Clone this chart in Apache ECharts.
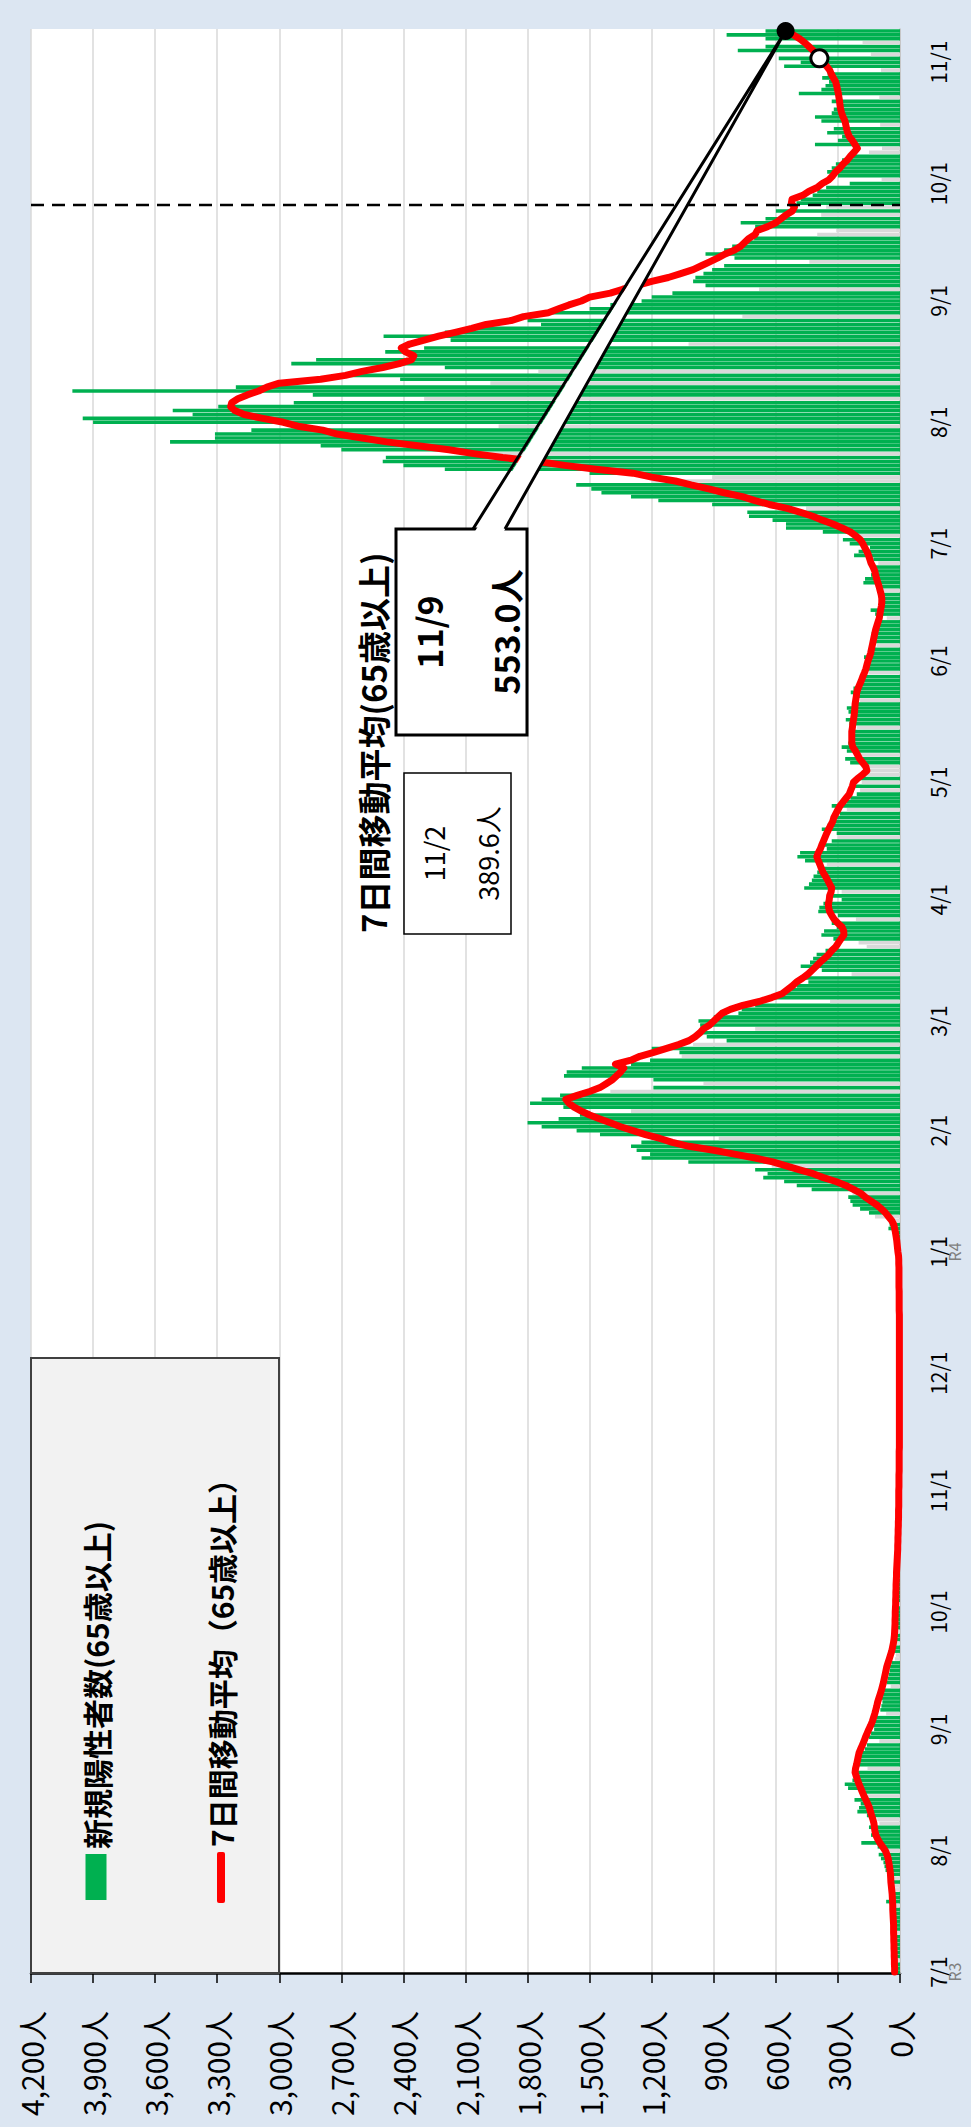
<!DOCTYPE html>
<html lang="ja">
<head>
<meta charset="utf-8">
<title>新規陽性者数(65歳以上)と7日間移動平均</title>
<script src="https://cdn.jsdelivr.net/npm/echarts@6/dist/echarts.min.js"></script>
<style>
  html, body { margin: 0; padding: 0; width: 971px; height: 2127px; overflow: hidden; background: #dce6f2; }
  /* the chart is laid out landscape and turned a quarter turn counter-clockwise */
  #chart { position: absolute; left: 0; top: 0; width: 2127px; height: 971px;
           transform-origin: 0 0; transform: translate(0px, 2127px) rotate(-90deg); }
</style>
</head>
<body>
<div id="chart"></div>
<script>
// ---- data: one value per day from 2021-07-01 to 2022-11-09 (rows of 7 days) ----
const startDate = '2021-07-01';

const newCases = [
  25,30,28,20,22,30,28,
  32,30,35,22,26,35,33,
  38,40,42,30,67,45,48,
  40,38,50,45,60,70,75,
  80,92,103,70,108,187,120,
  140,130,150,100,110,160,206,
  198,190,220,182,190,251,267,
  230,220,225,157,210,200,190,
  185,170,160,100,150,140,125,
  130,125,118,67,95,90,85,
  88,82,78,45,65,60,55,
  50,48,42,25,20,35,30,
  22,28,25,18,26,24,22,
  22,20,20,15,20,19,18,
  17,17,16,12,15,14,13,
  12,11,10,8,10,9,8,
  8,7,7,5,6,6,6,
  5,5,5,4,4,5,2,
  4,5,4,2,4,3,4,
  5,3,4,2,3,4,3,
  4,3,3,2,3,1,3,
  4,3,3,2,3,4,3,
  3,4,3,2,3,4,3,
  4,3,4,2,4,3,4,
  5,4,5,3,5,6,5,
  6,7,6,4,6,7,8,
  7,8,8,10,12,15,20,
  28,56,50,45,121,150,193,
  229,240,250,230,427,499,560,
  661,640,700,620,1023,1249,1208,
  1273,1300,1250,876,1450,1563,1732,
  1800,1650,1547,1300,1627,1788,1732,
  1643,1400,1192,950,1192,1624,1611,
  1538,1300,1208,1055,1066,1200,1000,
  838,934,982,700,966,974,900,
  781,765,700,338,628,580,560,
  499,443,460,234,378,480,435,
  420,403,360,161,200,322,380,
  367,306,330,213,300,395,390,
  370,282,340,282,463,440,426,
  418,400,390,354,459,496,483,
  354,380,330,300,306,378,350,
  322,310,290,257,330,260,240,
  209,193,217,185,200,161,153,
  185,241,265,210,257,282,250,
  225,240,230,209,245,262,235,
  249,257,220,193,215,238,225,
  200,190,175,153,177,170,165,
  174,150,140,113,130,129,137,
  125,113,105,64,120,142,100,
  95,88,105,90,113,177,169,
  140,130,125,105,129,222,200,
  145,243,276,227,373,551,551,
  616,730,738,454,908,1168,1300,
  1443,1492,1565,1200,908,1500,2200,
  2400,2500,2485,2100,2700,2800,3528,
  3311,3311,3135,1940,3900,3950,3419,
  3515,3295,2930,2300,2838,4000,3210,
  1980,2416,2700,1748,2200,2942,2822,
  2349,2488,2300,1022,2172,2496,2200,
  2044,1735,1800,762,1700,1500,1400,
  1249,1200,1100,681,940,1000,989,
  950,908,850,438,800,940,850,
  811,750,705,400,308,700,770,
  650,381,600,357,500,480,422,
  400,357,243,89,300,352,330,
  310,280,250,150,87,411,300,
  280,352,320,96,380,411,330,
  320,300,330,100,489,380,360,
  343,376,350,92,560,480,586,
  141,784,650,181,650,838,650
];

const movingAvg = [
  26,26,27,27,28,28,29,
  29,30,30,31,31,31,32,
  33,34,35,35,36,37,38,
  40,42,44,45,46,48,51,
  54,57,63,71,84,97,108,
  117,121,124,126,131,137,143,
  148,156,165,174,182,190,198,
  205,211,217,215,210,206,202,
  198,190,182,174,167,159,151,
  142,134,128,122,117,112,108,
  102,96,90,85,80,76,72,
  68,64,58,52,46,40,36,
  32,29,27,26,25,24,24,
  23,23,22,21,21,20,20,
  19,19,18,17,17,16,15,
  14,13,12,11,11,10,10,
  9,9,8,8,7,7,7,
  6,6,6,6,6,5,5,
  5,5,4,4,4,4,4,
  4,3,3,3,3,3,3,
  3,3,3,3,3,3,3,
  3,3,3,3,3,3,3,
  3,3,3,3,3,3,3,
  3,3,3,3,3,3,3,
  3,4,4,4,4,4,4,
  5,5,5,5,5,5,6,
  6,7,10,12,14,16,19,
  22,26,30,40,55,70,90,
  112,140,168,190,225,262,310,
  370,420,485,550,615,700,800,
  900,1020,1100,1160,1230,1290,1350,
  1400,1450,1500,1540,1575,1600,1615,
  1560,1500,1450,1420,1390,1370,1350,
  1335,1375,1300,1257,1190,1128,1070,
  1020,990,967,950,920,900,880,
  860,820,760,680,620,570,545,
  520,500,470,445,425,405,387,
  365,345,330,310,298,285,271,
  272,280,300,318,330,340,345,
  346,342,340,333,330,340,350,
  360,372,380,387,395,402,395,
  385,378,370,362,354,345,335,
  325,320,310,300,290,275,260,
  245,238,230,225,205,180,160,
  165,180,195,205,215,228,233,
  233,233,233,230,228,225,222,
  220,218,217,214,211,209,203,
  195,187,180,172,165,160,155,
  148,142,138,134,130,126,122,
  118,112,106,100,97,94,90,
  88,88,91,96,101,107,113,
  118,122,130,140,146,152,160,
  170,180,192,215,240,280,324,
  375,422,480,545,632,700,762,
  850,924,1010,1086,1200,1290,1470,
  1620,1750,1920,2060,2180,2330,2480,
  2600,2720,2790,2910,2980,3080,3170,
  3215,3235,3230,3200,3155,3100,3060,
  3000,2800,2680,2600,2500,2420,2360,
  2350,2390,2410,2370,2300,2230,2150,
  2070,2000,1880,1820,1700,1650,1600,
  1540,1500,1400,1340,1270,1200,1120,
  1060,1000,960,920,880,845,800,
  770,750,730,700,690,640,600,
  575,550,520,510,525,522,470,
  441,400,376,343,325,311,290,
  275,255,240,222,206,218,230,
  245,253,258,262,266,275,282,
  287,290,292,295,298,302,306,
  311,322,332,340,355,372,389.6,
  405,420,440,460,485,515,553.0
];

// national holidays, drawn grey like Sundays
const holidays = [
  '2021-07-22','2021-07-23','2021-08-09','2021-09-20','2021-09-23','2021-11-03','2021-11-23',
  '2022-01-01','2022-01-10','2022-02-11','2022-02-23','2022-03-21','2022-04-29','2022-05-03',
  '2022-05-04','2022-05-05','2022-07-18','2022-08-11','2022-09-19','2022-09-23','2022-10-10','2022-11-03'
];

// era labels written under the first tick of each year
const eraLabels = { '2021-07-01': 'R3', '2022-01-01': 'R4' };

// value axis: 0人 … 4,200人 every 300
const valueMax = 4200;
const valueStep = 300;

// callout / reference dates
const latestDate = '2022-11-09';
const previousDate = '2022-11-02';
const reportingChangeDate = '2022-09-26';

const barName = '新規陽性者数(65歳以上)';
const lineName = '7日間移動平均（65歳以上）';
const calloutTitle = '7日間移動平均(65歳以上)';

// ---- build the category list ----
const dates = [];
{
  const t0 = Date.parse(startDate + 'T00:00:00Z');
  for (let i = 0; i < newCases.length; i++) {
    dates.push(new Date(t0 + i * 86400000).toISOString().slice(0, 10));
  }
}
const isGreyDay = d => new Date(d + 'T00:00:00Z').getUTCDay() === 0 || holidays.includes(d);
const shortDate = d => { const p = d.split('-'); return (+p[1]) + '/' + (+p[2]); };

const barData = newCases.map((v, i) =>
  isGreyDay(dates[i]) ? { value: v, itemStyle: { color: '#d9d9d9' } } : v);

const FONT = '"Noto Sans CJK JP", "Noto Sans", sans-serif';
const latestIdx = dates.indexOf(latestDate);
const prevIdx = dates.indexOf(previousDate);

const chart = echarts.init(document.getElementById('chart'), null, { renderer: 'svg' });

const GRID = { left: 153, right: 29, top: 31, bottom: 71 };

chart.setOption({
  animation: false,
  backgroundColor: '#dce6f2',
  grid: Object.assign({ show: true, backgroundColor: '#ffffff', borderWidth: 0, containLabel: false }, GRID),
  legend: [
    {
      data: [{ name: barName, icon: 'rect' }],
      left: 222, top: 76, itemWidth: 46, itemHeight: 21, selectedMode: false, z: 12,
      textStyle: { fontSize: 30, fontWeight: 'bold', color: '#000', fontFamily: FONT }
    },
    {
      data: [{ name: lineName, icon: 'roundRect' }],
      left: 219, top: 201, itemWidth: 51, itemHeight: 8, selectedMode: false, z: 12,
      textStyle: { fontSize: 30, fontWeight: 'bold', color: '#000', fontFamily: FONT }
    }
  ],
  xAxis: {
    type: 'category',
    data: dates,
    boundaryGap: true,
    axisLine: { lineStyle: { color: '#bfbfbf', width: 1.5 } },
    axisTick: { show: false },
    splitLine: { show: false },
    axisLabel: {
      interval: (idx, val) => val.endsWith('-01'),
      formatter: val => eraLabels[val] ? shortDate(val) + '\n{era|' + eraLabels[val] + '}' : shortDate(val),
      color: '#000', fontSize: 21, lineHeight: 20, fontFamily: FONT, margin: 28,
      rich: { era: { fontSize: 16, lineHeight: 12, color: '#7f7f7f', fontFamily: FONT } }
    }
  },
  yAxis: {
    type: 'value',
    min: 0, max: valueMax, interval: valueStep,
    axisLine: { show: true, lineStyle: { color: '#000', width: 2.5 } },
    axisTick: { show: true, length: 9, lineStyle: { color: '#000', width: 1.5 } },
    axisLabel: {
      formatter: v => v.toLocaleString('en-US') + '人',
      color: '#000', fontSize: 30, fontFamily: FONT, margin: 37
    },
    splitLine: { lineStyle: { color: '#d9d9d9', width: 1.5 } }
  },
  series: [
    {
      name: barName, type: 'bar', data: barData,
      barCategoryGap: '8%',
      itemStyle: { color: '#00b050' },
      z: 2
    },
    {
      name: lineName, type: 'line', data: movingAvg,
      symbol: 'none', smooth: false,
      itemStyle: { color: '#ff0000' },
      lineStyle: { color: '#ff0000', width: 7, join: 'round', cap: 'round' },
      z: 3,
      markPoint: {
        z: 30,
        label: { show: false },
        data: [
          { coord: [latestDate, movingAvg[latestIdx]], symbol: 'circle', symbolSize: 18,
            itemStyle: { color: '#000' } },
          { coord: [previousDate, movingAvg[prevIdx]], symbol: 'circle', symbolSize: 17,
            itemStyle: { color: '#fff', borderColor: '#000', borderWidth: 3 } }
        ]
      }
    }
  ]
});

// ---- annotations placed from the axes ----
const W = chart.getWidth(), H = chart.getHeight();
const plotTop = GRID.top, plotBottom = H - GRID.bottom;

const tip = chart.convertToPixel({ seriesIndex: 1 }, [latestDate, movingAvg[latestIdx]]);
const ci = dates.indexOf(reportingChangeDate);
const xa = chart.convertToPixel({ xAxisIndex: 0 }, dates[ci - 1]);
const xb = chart.convertToPixel({ xAxisIndex: 0 }, dates[ci]);
const changeX = (xa + xb) / 2;

const box1 = { x: 1392, y: 396, w: 206, h: 131 };
const box2 = { x: 1193, y: 404, w: 161, h: 107 };
const stemA = 473, stemB = 505;

chart.setOption({
  graphic: [
    // legend frame
    { type: 'rect', z: 5, shape: { x: 154, y: 31, width: 615, height: 248 },
      style: { fill: '#f2f2f2', stroke: '#404040', lineWidth: 2 } },
    // change of reporting scope
    { type: 'line', z: 6, shape: { x1: changeX, y1: plotTop, x2: changeX, y2: plotBottom },
      style: { stroke: '#000', lineWidth: 2.5, lineDash: [13, 8] } },
    // title over the callouts
    { type: 'text', z: 20, x: 1194, y: 373,
      style: { text: calloutTitle, font: 'bold 33px ' + FONT, fill: '#000', verticalAlign: 'middle', align: 'left' } },
    // latest value callout
    { type: 'rect', z: 20, shape: { x: box1.x, y: box1.y, width: box1.w, height: box1.h },
      style: { fill: '#fff', stroke: '#000', lineWidth: 3 } },
    { type: 'polygon', z: 21, shape: { points: [[box1.x + box1.w - 3, stemA + 1.5], [tip[0], tip[1]], [box1.x + box1.w - 3, stemB - 1.5]] },
      style: { fill: '#fff', stroke: null } },
    { type: 'polyline', z: 22, shape: { points: [[box1.x + box1.w, stemA], [tip[0], tip[1]], [box1.x + box1.w, stemB]] },
      style: { fill: null, stroke: '#000', lineWidth: 3, lineJoin: 'miter' } },
    { type: 'text', z: 23, x: box1.x + box1.w / 2, y: 428,
      style: { text: shortDate(latestDate), font: 'bold 34px ' + FONT, fill: '#000', align: 'center', verticalAlign: 'middle' } },
    { type: 'text', z: 23, x: box1.x + box1.w / 2, y: 505,
      style: { text: movingAvg[latestIdx].toFixed(1) + '人', font: 'bold 34px ' + FONT, fill: '#000', align: 'center', verticalAlign: 'middle' } },
    // previous week callout
    { type: 'rect', z: 20, shape: { x: box2.x, y: box2.y, width: box2.w, height: box2.h },
      style: { fill: '#fff', stroke: '#000', lineWidth: 1.5 } },
    { type: 'text', z: 23, x: box2.x + box2.w / 2, y: 433,
      style: { text: shortDate(previousDate), font: '27px ' + FONT, fill: '#000', align: 'center', verticalAlign: 'middle' } },
    { type: 'text', z: 23, x: box2.x + box2.w / 2, y: 487,
      style: { text: movingAvg[prevIdx].toFixed(1) + '人', font: '27px ' + FONT, fill: '#000', align: 'center', verticalAlign: 'middle' } }
  ]
});
</script>
</body>
</html>
